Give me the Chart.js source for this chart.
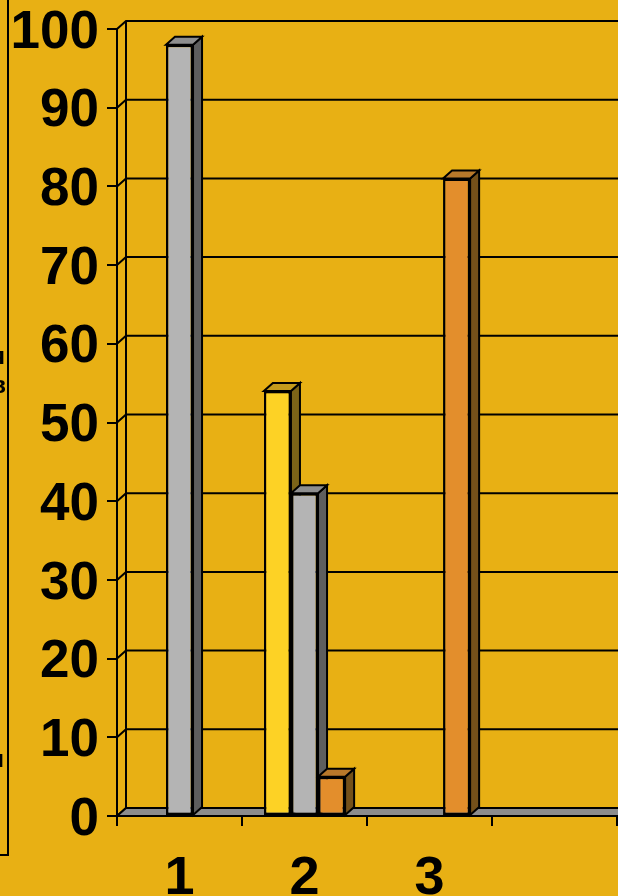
<!DOCTYPE html>
<html>
<head>
<meta charset="utf-8">
<script src="https://cdn.jsdelivr.net/npm/chart.js@4.4.0/dist/chart.umd.min.js"></script>
<style>
  html, body { margin: 0; padding: 0; background: #E8B014; }
  canvas { display: block; }
</style>
</head>
<body>
<canvas id="barChart" width="618" height="896"></canvas>
<script>
// data
const categories = ['1', '2', '3', '']
const yellowValues = [0, 54, 0, 0]
const greyValues = [98, 41, 0, 0]
const orangeValues = [0, 5, 81, 0]
const yTicks = [0, 10, 20, 30, 40, 50, 60, 70, 80, 90, 100]

// depth of the fake 3d
const DX = 9
const DY = -8

// side / top shades for each series
const shades = [
  { side: '#7C6418', top: '#C49A1C' },
  { side: '#5E5E5E', top: '#8E8E8E' },
  { side: '#74501A', top: '#B8782A' }
]

const depthPlugin = {
  id: 'depthPlugin',
  beforeDatasetsDraw(chart) {
    const { ctx, chartArea: { left, right, top, bottom }, scales: { y } } = chart
    ctx.save()
    ctx.strokeStyle = '#000'
    ctx.lineWidth = 2

    // back wall gridlines
    yTicks.forEach(v => {
      const py = y.getPixelForValue(v)
      ctx.beginPath()
      ctx.moveTo(left, py)
      ctx.lineTo(left + DX, py + DY)
      ctx.lineTo(right + 2, py + DY)
      ctx.stroke()
    })
    ctx.beginPath()
    ctx.moveTo(left + DX, top + DY)
    ctx.lineTo(left + DX, bottom + DY)
    ctx.stroke()

    // floor
    ctx.fillStyle = '#8C8C8C'
    ctx.beginPath()
    ctx.moveTo(left, bottom)
    ctx.lineTo(left + DX, bottom + DY)
    ctx.lineTo(right + 2, bottom + DY)
    ctx.lineTo(right + 2, bottom)
    ctx.closePath()
    ctx.fill()
    ctx.stroke()

    // front axis line
    ctx.beginPath()
    ctx.moveTo(left, top)
    ctx.lineTo(left, bottom + 10)
    ctx.stroke()

    // bar tops and sides
    chart.data.datasets.forEach((ds, i) => {
      chart.getDatasetMeta(i).data.forEach((bar, j) => {
        if (!ds.data[j]) return
        const { x, y: by, base, width } = bar.getProps(['x', 'y', 'base', 'width'])
        const l = x - width / 2
        const r = x + width / 2
        ctx.fillStyle = shades[i].side
        ctx.beginPath()
        ctx.moveTo(r, by)
        ctx.lineTo(r + DX, by + DY)
        ctx.lineTo(r + DX, base + DY)
        ctx.lineTo(r, base)
        ctx.closePath()
        ctx.fill()
        ctx.stroke()
        ctx.fillStyle = shades[i].top
        ctx.beginPath()
        ctx.moveTo(l, by)
        ctx.lineTo(l + DX, by + DY)
        ctx.lineTo(r + DX, by + DY)
        ctx.lineTo(r, by)
        ctx.closePath()
        ctx.fill()
        ctx.stroke()
      })
    })
    ctx.restore()
  },
  afterDraw(chart) {
    // cut-off box on the left edge
    const { ctx } = chart
    ctx.save()
    ctx.strokeStyle = '#000'
    ctx.lineWidth = 2
    ctx.beginPath()
    ctx.moveTo(8, 0)
    ctx.lineTo(8, 855)
    ctx.lineTo(-2, 855)
    ctx.stroke()
    ctx.fillStyle = '#000'
    ctx.font = 'bold 24px "Liberation Sans", Arial'
    ctx.textAlign = 'right'
    ctx.textBaseline = 'middle'
    ctx.fillText('Серия', 5, 357)
    ctx.fillText('в', 6, 386)
    ctx.fillText('ы', 4, 760)
    ctx.restore()
  }
}

const ctxBar = document.getElementById('barChart').getContext('2d')
const barChart = new Chart(ctxBar, {
  type: 'bar',
  data: {
    labels: categories,
    datasets: [
      {
        label: 'yellow',
        data: yellowValues,
        backgroundColor: '#FDD225'
      },
      {
        label: 'grey',
        data: greyValues,
        backgroundColor: '#B4B4B4'
      },
      {
        label: 'orange',
        data: orangeValues,
        backgroundColor: '#E38E2C'
      }
    ]
  },
  options: {
    responsive: false,
    animation: false,
    layout: {
      padding: { top: 29, right: 1, left: 0, bottom: 0 }
    },
    datasets: {
      bar: {
        barPercentage: 1,
        categoryPercentage: 0.65,
        borderColor: '#000',
        borderWidth: 2.5,
        borderSkipped: false
      }
    },
    plugins: {
      legend: { display: false },
      tooltip: { enabled: false }
    },
    scales: {
      x: {
        offset: true,
        grid: {
          offset: true,
          drawOnChartArea: false,
          tickLength: 10,
          color: '#000',
          lineWidth: 2
        },
        border: { display: false },
        ticks: {
          color: '#000',
          padding: 26,
          maxRotation: 0,
          font: { family: '"Liberation Sans", Arial', size: 54, weight: 'bold', lineHeight: 1 }
        },
        afterFit(scale) { scale.height = 80 }
      },
      y: {
        min: 0,
        max: 100,
        grid: {
          drawOnChartArea: false,
          tickLength: 10,
          color: '#000',
          lineWidth: 2
        },
        border: { display: false },
        ticks: {
          stepSize: 10,
          color: '#000',
          padding: 8,
          labelOffset: 4,
          font: { family: '"Liberation Sans", Arial', size: 53, weight: 'bold', lineHeight: 0.6 }
        },
        afterFit(scale) { scale.width = 117 }
      }
    }
  },
  plugins: [depthPlugin]
})
</script>
</body>
</html>
